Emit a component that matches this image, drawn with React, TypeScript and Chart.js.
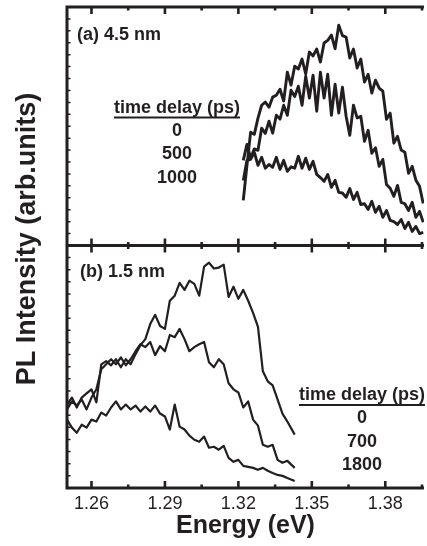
import React, { useEffect, useRef } from 'react';
import { Chart, registerables } from 'chart.js';

Chart.register(...registerables);

// ---------- data ----------
// panel (a) 4.5 nm
const energyA = [
  1.322, 1.3235, 1.325, 1.3265, 1.328, 1.3295, 1.331, 1.3325, 1.334, 1.3355,
  1.337, 1.3385, 1.34, 1.3415, 1.343, 1.3445, 1.346, 1.3475, 1.349, 1.3505,
  1.352, 1.3535, 1.355, 1.3565, 1.358, 1.3595, 1.361, 1.3625, 1.364, 1.3655,
  1.367, 1.3685, 1.37, 1.3715, 1.373, 1.3745, 1.376, 1.3775, 1.379, 1.3805,
  1.382, 1.3835, 1.385, 1.3865, 1.388, 1.3895, 1.391, 1.3925, 1.394, 1.3955,
];
const pl_a_0ps = [
  18.9, 33.6, 47.5, 46.6, 53.4, 58.8, 60.1, 58.0, 62.2, 63.0,
  65.5, 60.6, 72.7, 67.2, 75.2, 74.0, 78.2, 71.9, 81.1, 79.5,
  82.4, 76.9, 84.9, 86.0, 88.2, 82.5, 92.4, 88.0, 87.4, 78.6,
  82.4, 74.4, 78.2, 68.5, 71.8, 63.9, 69.3, 66.0, 64.7, 52.9,
  55.5, 42.9, 45.8, 40.0, 39.1, 30.3, 33.2, 27.4, 24.8, 17.6,
];
const pl_a_500ps = [
  35.7, 42.4, 36.6, 40.5, 39.9, 49.2, 47.0, 52.1, 47.1, 54.6,
  53.0, 58.8, 54.6, 65.1, 62.5, 66.8, 58.8, 71.0, 61.8, 71.4,
  56.3, 72.7, 61.8, 71.8, 54.6, 67.6, 55.5, 66.4, 54.2, 46.2,
  58.8, 53.5, 54.2, 43.7, 48.3, 38.7, 41.0, 33.2, 36.1, 25.6,
  24.0, 20.6, 25.2, 18.1, 17.5, 14.7, 18.1, 11.8, 14.3, 9.7,
];
const pl_a_1000ps = [
  27.3, 35.7, 36.1, 39.1, 33.6, 37.0, 32.4, 34.0, 32.8, 37.0,
  31.9, 35.7, 31.1, 33.0, 32.4, 37.4, 32.4, 36.6, 31.9, 35.3,
  29.8, 28.5, 26.9, 29.8, 24.4, 27.3, 22.3, 22.0, 20.2, 23.9,
  19.3, 22.3, 17.2, 17.5, 15.1, 18.5, 13.9, 16.4, 11.8, 14.7,
  10.5, 10.0, 8.8, 10.9, 7.1, 9.7, 5.9, 8.0, 5.0, 5.5,
];

// panel (b) 1.5 nm
const energyB = [
  1.25, 1.252, 1.254, 1.256, 1.258, 1.26, 1.262, 1.264, 1.266, 1.268,
  1.27, 1.272, 1.274, 1.276, 1.278, 1.28, 1.282, 1.284, 1.286, 1.288,
  1.29, 1.292, 1.294, 1.296, 1.298, 1.3, 1.302, 1.304, 1.306, 1.308,
  1.31, 1.312, 1.314, 1.316, 1.318, 1.32, 1.322, 1.324, 1.326, 1.328,
  1.33, 1.332, 1.334, 1.336, 1.338, 1.34, 1.343,
];
const pl_b_0ps = [
  34.4, 37.3, 33.2, 37.3, 39.0, 40.7, 35.3, 51.0, 52.3, 50.6,
  53.1, 49.8, 53.1, 51.0, 55.2, 58.9, 61.4, 67.6, 71.4, 66.8,
  65.6, 77.2, 79.3, 84.6, 81.7, 85.5, 84.2, 79.3, 91.3, 92.9,
  90.5, 90.9, 92.1, 78.8, 83.0, 78.0, 81.7, 77.2, 72.2, 66.4,
  48.1, 44.0, 42.3, 36.5, 30.7, 27.4, 22.0,
];
const pl_b_700ps = [
  32.4, 35.7, 34.0, 36.5, 32.4, 37.3, 40.7, 49.0, 51.0, 53.1,
  51.0, 53.9, 50.6, 53.1, 56.4, 59.3, 58.1, 60.2, 54.8, 58.5,
  56.4, 63.1, 62.2, 65.6, 61.4, 56.4, 58.1, 59.3, 60.2, 51.9,
  49.8, 53.1, 51.0, 43.2, 40.7, 39.4, 33.2, 35.7, 28.2, 25.7,
  17.8, 17.0, 17.8, 11.6, 10.4, 11.2, 8.3,
];
const pl_b_1800ps = [
  28.2, 24.9, 22.8, 26.1, 24.9, 28.2, 27.4, 31.1, 29.9, 33.2,
  35.7, 32.4, 34.4, 32.4, 34.0, 31.5, 33.6, 31.5, 34.0, 30.7,
  29.5, 24.1, 34.4, 25.3, 24.1, 21.6, 19.9, 19.1, 21.2, 16.6,
  17.0, 15.8, 17.4, 12.4, 10.8, 11.6, 9.1, 8.7, 8.3, 7.5,
  8.3, 7.1, 6.2, 5.4, 5.0, 4.1, 2.9,
];

// axes / labels
const xTickValues = [1.26, 1.275, 1.29, 1.305, 1.32, 1.335, 1.35, 1.365, 1.38, 1.395];
const xMajorTicks = [1.26, 1.29, 1.32, 1.35, 1.38];
const xMin = 1.25;
const xMax = 1.3958;
const yMinorStep = 5;
const legendA = ['0', '500', '1000'];
const legendB = ['0', '700', '1800'];
const panelLabelA = '(a) 4.5 nm';
const panelLabelB = '(b) 1.5 nm';
const legendTitle = 'time delay (ps)';
const xTitle = 'Energy (eV)';
const yTitle = 'PL Intensity (arb.units)';

const FONT = '"Liberation Sans", Arial, Helvetica, sans-serif';
const INK = '#231f20';

const isMajor = (v: number) => xMajorTicks.some((m) => Math.abs(m - v) < 1e-6);

const framePlugin = {
  id: 'frame',
  afterDatasetsDraw(chart: any) {
    const { ctx, chartArea: ca, scales } = chart;
    const x = scales.x;
    const ya = scales.ya;
    const yb = scales.yb;
    const top = ya.top;
    const mid = ya.bottom;
    const bottom = yb.bottom;
    ctx.save();
    ctx.strokeStyle = INK;
    ctx.lineCap = 'butt';
    ctx.lineWidth = 3;
    ctx.beginPath();
    ctx.moveTo(ca.left, top - 1.5);
    ctx.lineTo(ca.left, bottom + 1.5);
    [top, mid, bottom].forEach((y: number) => {
      ctx.moveTo(ca.left - 1.5, y);
      ctx.lineTo(ca.right, y);
    });
    ctx.stroke();

    x.ticks.forEach((t: any) => {
      const px = x.getPixelForValue(t.value);
      const major = isMajor(t.value);
      const len = major ? 7 : 3.5;
      ctx.lineWidth = 2.6;
      ctx.beginPath();
      ctx.moveTo(px, top);
      ctx.lineTo(px, top + len);
      ctx.moveTo(px, mid - len);
      ctx.lineTo(px, mid + len);
      ctx.moveTo(px, bottom);
      ctx.lineTo(px, bottom - len);
      ctx.stroke();
    });

    ctx.lineWidth = 1.5;
    [ya, yb].forEach((s: any) => {
      ctx.beginPath();
      for (let v = yMinorStep; v < s.max; v += yMinorStep) {
        const py = s.getPixelForValue(v);
        ctx.moveTo(ca.left, py);
        ctx.lineTo(ca.left + 3.5, py);
      }
      ctx.stroke();
    });
    ctx.restore();
  },
  afterDraw(chart: any) {
    const { ctx, chartArea: ca, scales } = chart;
    const ya = scales.ya;
    const yb = scales.yb;
    ctx.save();
    ctx.fillStyle = INK;
    ctx.strokeStyle = INK;
    ctx.textBaseline = 'middle';

    ctx.font = `bold 18px ${FONT}`;
    ctx.textAlign = 'left';
    ctx.fillText(panelLabelA, ca.left + 10, ya.top + 28);
    ctx.fillText(panelLabelB, ca.left + 13, yb.top + 27);

    const drawLegend = (cx: number, ty: number, items: string[]) => {
      ctx.font = `bold 18px ${FONT}`;
      ctx.textAlign = 'center';
      ctx.fillText(legendTitle, cx, ty);
      const w = ctx.measureText(legendTitle).width;
      ctx.lineWidth = 2;
      ctx.beginPath();
      ctx.moveTo(cx - w / 2, ty + 9.5);
      ctx.lineTo(cx + w / 2, ty + 9.5);
      ctx.stroke();
      items.forEach((s, i) => ctx.fillText(s, cx, ty + 23 + i * 23.5));
    };
    drawLegend(177, ya.top + 101, legendA);
    drawLegend(362, yb.top + 150, legendB);

    ctx.font = `bold 27px ${FONT}`;
    ctx.textAlign = 'center';
    ctx.translate(28, 239);
    ctx.rotate(-Math.PI / 2);
    ctx.fillText(yTitle, 0, 0);
    ctx.restore();
  },
};

const line = (data: number[], xs: number[], axis: string, width: number, label: string) => ({
  label,
  data: xs.map((e, i) => ({ x: e, y: data[i] })),
  yAxisID: axis,
  borderColor: INK,
  borderWidth: width,
  pointRadius: 0,
  tension: 0,
  fill: false,
  borderJoinStyle: 'round' as const,
});

const hiddenY = (weight: number, stackWeight: number) => ({
  type: 'linear' as const,
  position: 'left' as const,
  stack: 'panels',
  stackWeight,
  weight,
  min: 0,
  max: 100,
  display: true,
  grid: { display: false, drawTicks: false },
  border: { display: false },
  ticks: { display: false },
  afterFit: (s: any) => {
    s.width = 0;
  },
});

export default function App() {
  const ref = useRef<HTMLCanvasElement | null>(null);
  useEffect(() => {
    if (!ref.current) return;
    const chart = new Chart(ref.current, {
      type: 'line',
      data: {
        datasets: [
          line(pl_a_0ps, energyA, 'ya', 2.9, '(a) 0 ps'),
          line(pl_a_500ps, energyA, 'ya', 2.9, '(a) 500 ps'),
          line(pl_a_1000ps, energyA, 'ya', 2.9, '(a) 1000 ps'),
          line(pl_b_0ps, energyB, 'yb', 2.2, '(b) 0 ps'),
          line(pl_b_700ps, energyB, 'yb', 2.2, '(b) 700 ps'),
          line(pl_b_1800ps, energyB, 'yb', 2.2, '(b) 1800 ps'),
        ],
      },
      options: {
        responsive: false,
        animation: false,
        devicePixelRatio: 1,
        layout: { padding: { left: 67, top: 7, right: 0, bottom: 0 } },
        plugins: { legend: { display: false }, tooltip: { enabled: false } },
        scales: {
          x: {
            type: 'linear',
            position: 'bottom',
            min: xMin,
            max: xMax,
            afterBuildTicks: (axis: any) => {
              axis.ticks = xTickValues.map((v) => ({ value: v }));
            },
            afterFit: (s: any) => {
              s.height = 58;
            },
            grid: { display: false, drawTicks: false },
            border: { display: false },
            ticks: {
              autoSkip: false,
              maxRotation: 0,
              padding: 5,
              color: INK,
              font: { family: FONT, size: 18 },
              callback: (v: any) => (isMajor(Number(v)) ? Number(v).toFixed(2) : ''),
            },
            title: {
              display: true,
              text: xTitle,
              color: INK,
              font: { family: FONT, size: 25, weight: 'bold' },
              padding: { top: 0, bottom: 5 },
            },
          },
          ya: hiddenY(2, 238),
          yb: hiddenY(1, 242),
        },
      },
      plugins: [framePlugin],
    } as any);
    return () => chart.destroy();
  }, []);
  return (
    <div style={{ position: 'absolute', left: 0, top: 0, width: 427, height: 546, background: '#fff' }}>
      <canvas ref={ref} width={427} height={546} style={{ display: 'block' }} />
    </div>
  );
}
